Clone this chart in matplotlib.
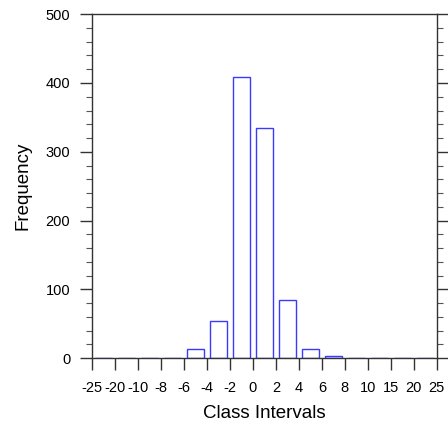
import matplotlib.pyplot as plt
from matplotlib.ticker import MultipleLocator

plt.rcParams['font.family'] = ['Liberation Sans', 'DejaVu Sans']

# Klassengrenzen und Haeufigkeiten
class_edges = ['-25', '-20', '-10', '-8', '-6', '-4', '-2', '0', '2', '4',
               '6', '8', '10', '15', '20', '25']
frequency = [0, 0, 0, 1, 14, 54, 409, 334, 84, 14, 3, 1, 0, 0, 0]

fig = plt.figure(figsize=(4.48, 4.30), dpi=100)
ax = fig.add_axes([0.205, 0.167, 0.77, 0.80])

pos = [i + 0.5 for i in range(len(frequency))]
ax.bar(pos, frequency, width=0.72, fill=False, edgecolor='#3a3aff', linewidth=1.0)

ax.set_xlim(0, len(class_edges) - 1)
ax.set_ylim(0, 500)
ax.set_xticks(range(len(class_edges)))
ax.set_xticklabels(class_edges)
ax.yaxis.set_major_locator(MultipleLocator(100))
ax.yaxis.set_minor_locator(MultipleLocator(20))

for s in ax.spines.values():
    s.set_color('#333333')
    s.set_linewidth(1.0)

ax.tick_params(axis='y', which='major', direction='out', length=8.6, width=1,
               labelsize=10.5, colors='#333333', labelcolor='black', right=True, pad=7)
ax.tick_params(axis='y', which='minor', direction='out', length=4.3, width=0.8,
               colors='#555555', right=True)
ax.tick_params(axis='x', which='major', direction='out', length=8.6, width=1,
               labelsize=10.5, colors='#333333', labelcolor='black', pad=8)

ax.set_xlabel('Class Intervals', fontsize=13.5, labelpad=7)
ax.set_ylabel('Frequency', fontsize=13.5, labelpad=10)

fig.savefig('out.png', dpi=100)
